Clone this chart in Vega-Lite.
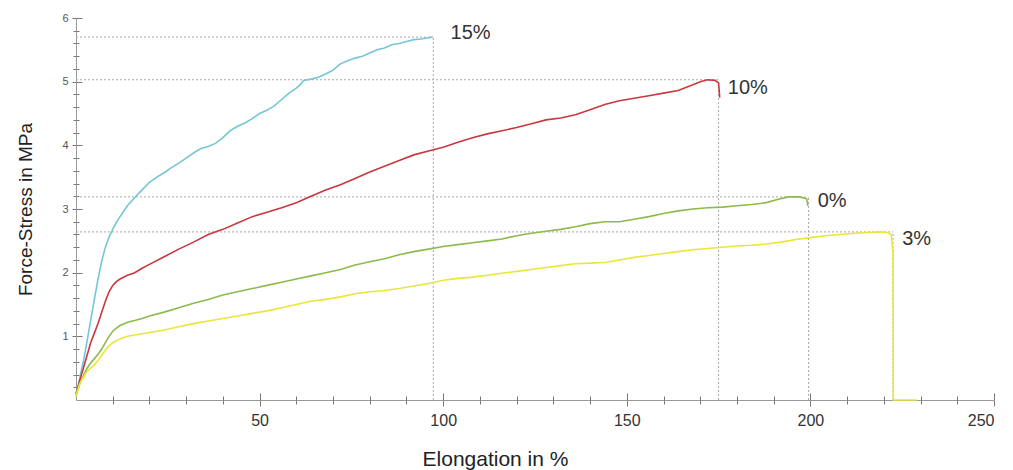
{
  "$schema": "https://vega.github.io/schema/vega-lite/v6.json",
  "width": 918,
  "height": 382,
  "autosize": "none",
  "padding": {"left": 76, "top": 18, "right": 19, "bottom": 70},
  "background": "white",
  "config": {
    "view": {"stroke": null},
    "font": "Liberation Sans",
    "axis": {"grid": false}
  },
  "datasets": {
    "curves": [
      {"series": "15%", "elong": 0, "stress": 0.05},
      {"series": "15%", "elong": 0.5, "stress": 0.2},
      {"series": "15%", "elong": 1, "stress": 0.34},
      {"series": "15%", "elong": 1.5, "stress": 0.48},
      {"series": "15%", "elong": 2, "stress": 0.6},
      {"series": "15%", "elong": 3, "stress": 0.92},
      {"series": "15%", "elong": 4, "stress": 1.25},
      {"series": "15%", "elong": 5, "stress": 1.58},
      {"series": "15%", "elong": 6, "stress": 1.9},
      {"series": "15%", "elong": 7, "stress": 2.18},
      {"series": "15%", "elong": 8, "stress": 2.4},
      {"series": "15%", "elong": 9, "stress": 2.56},
      {"series": "15%", "elong": 10, "stress": 2.68},
      {"series": "15%", "elong": 11, "stress": 2.79},
      {"series": "15%", "elong": 12, "stress": 2.88},
      {"series": "15%", "elong": 14, "stress": 3.05},
      {"series": "15%", "elong": 16, "stress": 3.18},
      {"series": "15%", "elong": 18, "stress": 3.3},
      {"series": "15%", "elong": 20, "stress": 3.42},
      {"series": "15%", "elong": 22, "stress": 3.5},
      {"series": "15%", "elong": 24, "stress": 3.57},
      {"series": "15%", "elong": 26, "stress": 3.65},
      {"series": "15%", "elong": 28, "stress": 3.72},
      {"series": "15%", "elong": 30, "stress": 3.8},
      {"series": "15%", "elong": 32, "stress": 3.88},
      {"series": "15%", "elong": 34, "stress": 3.95},
      {"series": "15%", "elong": 36, "stress": 3.98},
      {"series": "15%", "elong": 38, "stress": 4.03},
      {"series": "15%", "elong": 40, "stress": 4.12},
      {"series": "15%", "elong": 42, "stress": 4.23},
      {"series": "15%", "elong": 44, "stress": 4.3},
      {"series": "15%", "elong": 46, "stress": 4.35},
      {"series": "15%", "elong": 48, "stress": 4.42},
      {"series": "15%", "elong": 50, "stress": 4.5},
      {"series": "15%", "elong": 52, "stress": 4.55},
      {"series": "15%", "elong": 54, "stress": 4.62},
      {"series": "15%", "elong": 56, "stress": 4.72},
      {"series": "15%", "elong": 58, "stress": 4.82},
      {"series": "15%", "elong": 60, "stress": 4.9},
      {"series": "15%", "elong": 61, "stress": 4.95},
      {"series": "15%", "elong": 62, "stress": 5.02},
      {"series": "15%", "elong": 64, "stress": 5.04},
      {"series": "15%", "elong": 66, "stress": 5.07},
      {"series": "15%", "elong": 68, "stress": 5.12},
      {"series": "15%", "elong": 70, "stress": 5.18},
      {"series": "15%", "elong": 72, "stress": 5.28},
      {"series": "15%", "elong": 74, "stress": 5.33},
      {"series": "15%", "elong": 76, "stress": 5.37},
      {"series": "15%", "elong": 78, "stress": 5.4},
      {"series": "15%", "elong": 80, "stress": 5.45},
      {"series": "15%", "elong": 82, "stress": 5.5},
      {"series": "15%", "elong": 84, "stress": 5.53},
      {"series": "15%", "elong": 86, "stress": 5.58},
      {"series": "15%", "elong": 88, "stress": 5.6},
      {"series": "15%", "elong": 90, "stress": 5.63},
      {"series": "15%", "elong": 92, "stress": 5.66},
      {"series": "15%", "elong": 94, "stress": 5.67},
      {"series": "15%", "elong": 96, "stress": 5.69},
      {"series": "15%", "elong": 97, "stress": 5.7},

      {"series": "10%", "elong": 0, "stress": 0.1},
      {"series": "10%", "elong": 1, "stress": 0.3},
      {"series": "10%", "elong": 2, "stress": 0.5},
      {"series": "10%", "elong": 3, "stress": 0.7},
      {"series": "10%", "elong": 4, "stress": 0.9},
      {"series": "10%", "elong": 5, "stress": 1.05},
      {"series": "10%", "elong": 6, "stress": 1.2},
      {"series": "10%", "elong": 7, "stress": 1.38},
      {"series": "10%", "elong": 8, "stress": 1.55},
      {"series": "10%", "elong": 9, "stress": 1.7},
      {"series": "10%", "elong": 10, "stress": 1.8},
      {"series": "10%", "elong": 11, "stress": 1.86},
      {"series": "10%", "elong": 12, "stress": 1.9},
      {"series": "10%", "elong": 14, "stress": 1.96},
      {"series": "10%", "elong": 16, "stress": 2.0},
      {"series": "10%", "elong": 18, "stress": 2.07},
      {"series": "10%", "elong": 20, "stress": 2.13},
      {"series": "10%", "elong": 24, "stress": 2.25},
      {"series": "10%", "elong": 28, "stress": 2.37},
      {"series": "10%", "elong": 32, "stress": 2.48},
      {"series": "10%", "elong": 36, "stress": 2.6},
      {"series": "10%", "elong": 40, "stress": 2.68},
      {"series": "10%", "elong": 44, "stress": 2.78},
      {"series": "10%", "elong": 48, "stress": 2.88},
      {"series": "10%", "elong": 52, "stress": 2.95},
      {"series": "10%", "elong": 56, "stress": 3.02},
      {"series": "10%", "elong": 60, "stress": 3.1},
      {"series": "10%", "elong": 64, "stress": 3.2},
      {"series": "10%", "elong": 68, "stress": 3.3},
      {"series": "10%", "elong": 72, "stress": 3.38},
      {"series": "10%", "elong": 76, "stress": 3.48},
      {"series": "10%", "elong": 80, "stress": 3.58},
      {"series": "10%", "elong": 84, "stress": 3.67},
      {"series": "10%", "elong": 88, "stress": 3.76},
      {"series": "10%", "elong": 92, "stress": 3.85},
      {"series": "10%", "elong": 96, "stress": 3.91},
      {"series": "10%", "elong": 100, "stress": 3.97},
      {"series": "10%", "elong": 104, "stress": 4.05},
      {"series": "10%", "elong": 108, "stress": 4.12},
      {"series": "10%", "elong": 112, "stress": 4.18},
      {"series": "10%", "elong": 116, "stress": 4.23},
      {"series": "10%", "elong": 120, "stress": 4.28},
      {"series": "10%", "elong": 124, "stress": 4.34},
      {"series": "10%", "elong": 128, "stress": 4.4},
      {"series": "10%", "elong": 132, "stress": 4.43},
      {"series": "10%", "elong": 136, "stress": 4.48},
      {"series": "10%", "elong": 140, "stress": 4.56},
      {"series": "10%", "elong": 144, "stress": 4.64},
      {"series": "10%", "elong": 148, "stress": 4.7},
      {"series": "10%", "elong": 152, "stress": 4.74},
      {"series": "10%", "elong": 156, "stress": 4.78},
      {"series": "10%", "elong": 160, "stress": 4.82},
      {"series": "10%", "elong": 164, "stress": 4.86},
      {"series": "10%", "elong": 168, "stress": 4.95},
      {"series": "10%", "elong": 170, "stress": 5.0},
      {"series": "10%", "elong": 172, "stress": 5.03},
      {"series": "10%", "elong": 174, "stress": 5.02},
      {"series": "10%", "elong": 175, "stress": 4.98},
      {"series": "10%", "elong": 175.3, "stress": 4.75},

      {"series": "0%", "elong": 0, "stress": 0.1},
      {"series": "0%", "elong": 1, "stress": 0.25},
      {"series": "0%", "elong": 2, "stress": 0.38},
      {"series": "0%", "elong": 3, "stress": 0.5},
      {"series": "0%", "elong": 4, "stress": 0.58},
      {"series": "0%", "elong": 5, "stress": 0.65},
      {"series": "0%", "elong": 6, "stress": 0.72},
      {"series": "0%", "elong": 7, "stress": 0.8},
      {"series": "0%", "elong": 8, "stress": 0.9},
      {"series": "0%", "elong": 9, "stress": 1.0},
      {"series": "0%", "elong": 10, "stress": 1.08},
      {"series": "0%", "elong": 11, "stress": 1.13},
      {"series": "0%", "elong": 12, "stress": 1.17},
      {"series": "0%", "elong": 14, "stress": 1.22},
      {"series": "0%", "elong": 16, "stress": 1.25},
      {"series": "0%", "elong": 18, "stress": 1.28},
      {"series": "0%", "elong": 20, "stress": 1.32},
      {"series": "0%", "elong": 24, "stress": 1.38},
      {"series": "0%", "elong": 28, "stress": 1.45},
      {"series": "0%", "elong": 32, "stress": 1.52},
      {"series": "0%", "elong": 36, "stress": 1.58},
      {"series": "0%", "elong": 40, "stress": 1.65},
      {"series": "0%", "elong": 44, "stress": 1.7},
      {"series": "0%", "elong": 48, "stress": 1.75},
      {"series": "0%", "elong": 52, "stress": 1.8},
      {"series": "0%", "elong": 56, "stress": 1.85},
      {"series": "0%", "elong": 60, "stress": 1.9},
      {"series": "0%", "elong": 64, "stress": 1.95},
      {"series": "0%", "elong": 68, "stress": 2.0},
      {"series": "0%", "elong": 72, "stress": 2.05},
      {"series": "0%", "elong": 76, "stress": 2.12},
      {"series": "0%", "elong": 80, "stress": 2.17},
      {"series": "0%", "elong": 84, "stress": 2.22},
      {"series": "0%", "elong": 88, "stress": 2.28},
      {"series": "0%", "elong": 92, "stress": 2.33},
      {"series": "0%", "elong": 96, "stress": 2.37},
      {"series": "0%", "elong": 100, "stress": 2.41},
      {"series": "0%", "elong": 104, "stress": 2.44},
      {"series": "0%", "elong": 108, "stress": 2.47},
      {"series": "0%", "elong": 112, "stress": 2.5},
      {"series": "0%", "elong": 116, "stress": 2.53},
      {"series": "0%", "elong": 120, "stress": 2.58},
      {"series": "0%", "elong": 124, "stress": 2.62},
      {"series": "0%", "elong": 128, "stress": 2.65},
      {"series": "0%", "elong": 132, "stress": 2.68},
      {"series": "0%", "elong": 136, "stress": 2.72},
      {"series": "0%", "elong": 140, "stress": 2.77},
      {"series": "0%", "elong": 144, "stress": 2.8},
      {"series": "0%", "elong": 148, "stress": 2.8},
      {"series": "0%", "elong": 152, "stress": 2.84},
      {"series": "0%", "elong": 156, "stress": 2.88},
      {"series": "0%", "elong": 160, "stress": 2.93},
      {"series": "0%", "elong": 164, "stress": 2.97},
      {"series": "0%", "elong": 168, "stress": 3.0},
      {"series": "0%", "elong": 172, "stress": 3.02},
      {"series": "0%", "elong": 176, "stress": 3.03},
      {"series": "0%", "elong": 180, "stress": 3.05},
      {"series": "0%", "elong": 184, "stress": 3.07},
      {"series": "0%", "elong": 188, "stress": 3.1},
      {"series": "0%", "elong": 191, "stress": 3.15},
      {"series": "0%", "elong": 194, "stress": 3.19},
      {"series": "0%", "elong": 197, "stress": 3.19},
      {"series": "0%", "elong": 199, "stress": 3.16},
      {"series": "0%", "elong": 199.3, "stress": 3.05},

      {"series": "3%", "elong": 0, "stress": 0.05},
      {"series": "3%", "elong": 0.5, "stress": 0.15},
      {"series": "3%", "elong": 1, "stress": 0.25},
      {"series": "3%", "elong": 2, "stress": 0.35},
      {"series": "3%", "elong": 3, "stress": 0.45},
      {"series": "3%", "elong": 4, "stress": 0.5},
      {"series": "3%", "elong": 5, "stress": 0.55},
      {"series": "3%", "elong": 6, "stress": 0.62},
      {"series": "3%", "elong": 7, "stress": 0.7},
      {"series": "3%", "elong": 8, "stress": 0.78},
      {"series": "3%", "elong": 9, "stress": 0.85},
      {"series": "3%", "elong": 10, "stress": 0.9},
      {"series": "3%", "elong": 12, "stress": 0.96},
      {"series": "3%", "elong": 14, "stress": 1.0},
      {"series": "3%", "elong": 16, "stress": 1.02},
      {"series": "3%", "elong": 18, "stress": 1.04},
      {"series": "3%", "elong": 20, "stress": 1.06},
      {"series": "3%", "elong": 24, "stress": 1.1},
      {"series": "3%", "elong": 28, "stress": 1.15},
      {"series": "3%", "elong": 32, "stress": 1.2},
      {"series": "3%", "elong": 36, "stress": 1.24},
      {"series": "3%", "elong": 40, "stress": 1.28},
      {"series": "3%", "elong": 44, "stress": 1.32},
      {"series": "3%", "elong": 48, "stress": 1.36},
      {"series": "3%", "elong": 52, "stress": 1.4},
      {"series": "3%", "elong": 56, "stress": 1.45},
      {"series": "3%", "elong": 60, "stress": 1.5},
      {"series": "3%", "elong": 64, "stress": 1.55},
      {"series": "3%", "elong": 68, "stress": 1.58},
      {"series": "3%", "elong": 72, "stress": 1.62},
      {"series": "3%", "elong": 76, "stress": 1.67},
      {"series": "3%", "elong": 80, "stress": 1.7},
      {"series": "3%", "elong": 84, "stress": 1.72},
      {"series": "3%", "elong": 88, "stress": 1.75},
      {"series": "3%", "elong": 92, "stress": 1.79},
      {"series": "3%", "elong": 96, "stress": 1.83},
      {"series": "3%", "elong": 100, "stress": 1.88},
      {"series": "3%", "elong": 104, "stress": 1.91},
      {"series": "3%", "elong": 108, "stress": 1.93},
      {"series": "3%", "elong": 112, "stress": 1.96},
      {"series": "3%", "elong": 116, "stress": 1.99},
      {"series": "3%", "elong": 120, "stress": 2.02},
      {"series": "3%", "elong": 124, "stress": 2.05},
      {"series": "3%", "elong": 128, "stress": 2.08},
      {"series": "3%", "elong": 132, "stress": 2.11},
      {"series": "3%", "elong": 136, "stress": 2.14},
      {"series": "3%", "elong": 140, "stress": 2.15},
      {"series": "3%", "elong": 144, "stress": 2.16},
      {"series": "3%", "elong": 148, "stress": 2.2},
      {"series": "3%", "elong": 152, "stress": 2.24},
      {"series": "3%", "elong": 156, "stress": 2.27},
      {"series": "3%", "elong": 160, "stress": 2.3},
      {"series": "3%", "elong": 164, "stress": 2.33},
      {"series": "3%", "elong": 168, "stress": 2.36},
      {"series": "3%", "elong": 172, "stress": 2.38},
      {"series": "3%", "elong": 176, "stress": 2.4},
      {"series": "3%", "elong": 180, "stress": 2.42},
      {"series": "3%", "elong": 184, "stress": 2.43},
      {"series": "3%", "elong": 188, "stress": 2.45},
      {"series": "3%", "elong": 192, "stress": 2.48},
      {"series": "3%", "elong": 196, "stress": 2.52},
      {"series": "3%", "elong": 200, "stress": 2.55},
      {"series": "3%", "elong": 204, "stress": 2.58},
      {"series": "3%", "elong": 208, "stress": 2.6},
      {"series": "3%", "elong": 212, "stress": 2.62},
      {"series": "3%", "elong": 216, "stress": 2.63},
      {"series": "3%", "elong": 219, "stress": 2.64},
      {"series": "3%", "elong": 221, "stress": 2.63},
      {"series": "3%", "elong": 222, "stress": 2.6},
      {"series": "3%", "elong": 222.5, "stress": 2.3},
      {"series": "3%", "elong": 222.6, "stress": 0},
      {"series": "3%", "elong": 229, "stress": 0}
    ],
    "peaks": [
      {"series": "15%", "x0": 0, "y0": 0, "xpeak": 97.3, "ypeak": 5.7, "lx": 102, "ly": 5.76},
      {"series": "10%", "x0": 0, "y0": 0, "xpeak": 175, "ypeak": 5.03, "lx": 177.5, "ly": 4.9},
      {"series": "0%", "x0": 0, "y0": 0, "xpeak": 199.5, "ypeak": 3.19, "lx": 202, "ly": 3.13},
      {"series": "3%", "x0": 0, "y0": 0, "xpeak": 222.5, "ypeak": 2.64, "lx": 225, "ly": 2.53}
    ]
  },
  "resolve": {"axis": {"x": "independent", "y": "independent"}},
  "layer": [
    {
      "data": {"name": "peaks"},
      "mark": {"type": "rule", "color": "#a8a8a8", "strokeWidth": 1, "strokeDash": [2, 2]},
      "encoding": {
        "x": {"field": "x0", "type": "quantitative", "scale": {"domain": [0, 250], "nice": false, "zero": false},
              "axis": {"orient": "bottom", "values": [50, 100, 150, 200, 250], "tickSize": -7, "tickColor": "#777", "labels": false, "domain": false, "title": null}},
        "x2": {"field": "xpeak"},
        "y": {"field": "ypeak", "type": "quantitative", "scale": {"domain": [0, 6], "nice": false, "zero": false},
              "axis": {"orient": "left", "values": [1, 2, 3, 4, 5, 6], "tickSize": -6, "tickColor": "#777", "labels": false, "domain": false, "title": null}}
      }
    },
    {
      "data": {"name": "peaks"},
      "mark": {"type": "rule", "color": "#a8a8a8", "strokeWidth": 1, "strokeDash": [2, 2]},
      "encoding": {
        "x": {"field": "xpeak", "type": "quantitative",
              "axis": {"orient": "bottom", "values": [10, 20, 30, 40, 60, 70, 80, 90, 110, 120, 130, 140, 160, 170, 180, 190, 210, 220, 230, 240], "tickSize": 4, "tickColor": "#777", "labels": false, "domain": false, "title": null}},
        "y": {"field": "y0", "type": "quantitative",
              "axis": {"orient": "left", "values": [0.2, 0.4, 0.6, 0.8, 1.2, 1.4, 1.6, 1.8, 2.2, 2.4, 2.6, 2.8, 3.2, 3.4, 3.6, 3.8, 4.2, 4.4, 4.6, 4.8, 5.2, 5.4, 5.6, 5.8], "tickSize": 3, "tickColor": "#777", "labels": false, "domain": false, "title": null}},
        "y2": {"field": "ypeak"}
      }
    },
    {
      "data": {"name": "curves"},
      "mark": {"type": "line", "strokeWidth": 1.6, "interpolate": "linear"},
      "encoding": {
        "x": {"field": "elong", "type": "quantitative",
              "axis": {"orient": "bottom", "values": [50, 100, 150, 200, 250], "tickSize": 6, "tickColor": "#777", "domainColor": "#999", "labelFontSize": 16, "labelColor": "#333", "labelPadding": 6,
                       "title": "Elongation in %", "titleFontSize": 21, "titleFontWeight": "normal", "titleColor": "#222", "titleX": 419, "titleY": 65, "titleAlign": "center", "titleBaseline": "alphabetic"}},
        "y": {"field": "stress", "type": "quantitative",
              "axis": {"orient": "left", "values": [1, 2, 3, 4, 5, 6], "tickSize": 4, "tickColor": "#777", "domainColor": "#999", "labelFontSize": 11, "labelColor": "#555", "labelPadding": 4,
                       "title": "Force-Stress in MPa", "titleFontSize": 19, "titleFontWeight": "normal", "titleColor": "#222", "titleX": -45, "titleY": 191, "titleAlign": "center", "titleBaseline": "alphabetic", "titleAngle": -90}},
        "color": {"field": "series", "type": "nominal", "legend": null,
                  "scale": {"domain": ["15%", "10%", "0%", "3%"], "range": ["#74c6d5", "#c8373d", "#8dba4c", "#e9e63a"]}},
        "order": {"field": "elong", "type": "quantitative"}
      }
    },
    {
      "data": {"name": "peaks"},
      "mark": {"type": "text", "align": "left", "baseline": "middle", "fontSize": 20, "color": "#333"},
      "encoding": {
        "x": {"field": "lx", "type": "quantitative",
              "axis": {"orient": "bottom", "values": [10, 20, 30, 40, 60, 70, 80, 90, 110, 120, 130, 140, 160, 170, 180, 190, 210, 220, 230, 240], "tickSize": -4, "tickColor": "#777", "labels": false, "domain": false, "title": null}},
        "y": {"field": "ly", "type": "quantitative",
              "axis": {"orient": "left", "values": [0.2, 0.4, 0.6, 0.8, 1.2, 1.4, 1.6, 1.8, 2.2, 2.4, 2.6, 2.8, 3.2, 3.4, 3.6, 3.8, 4.2, 4.4, 4.6, 4.8, 5.2, 5.4, 5.6, 5.8], "tickSize": -3, "tickColor": "#777", "labels": false, "domain": false, "title": null}},
        "text": {"field": "series"}
      }
    }
  ]
}
